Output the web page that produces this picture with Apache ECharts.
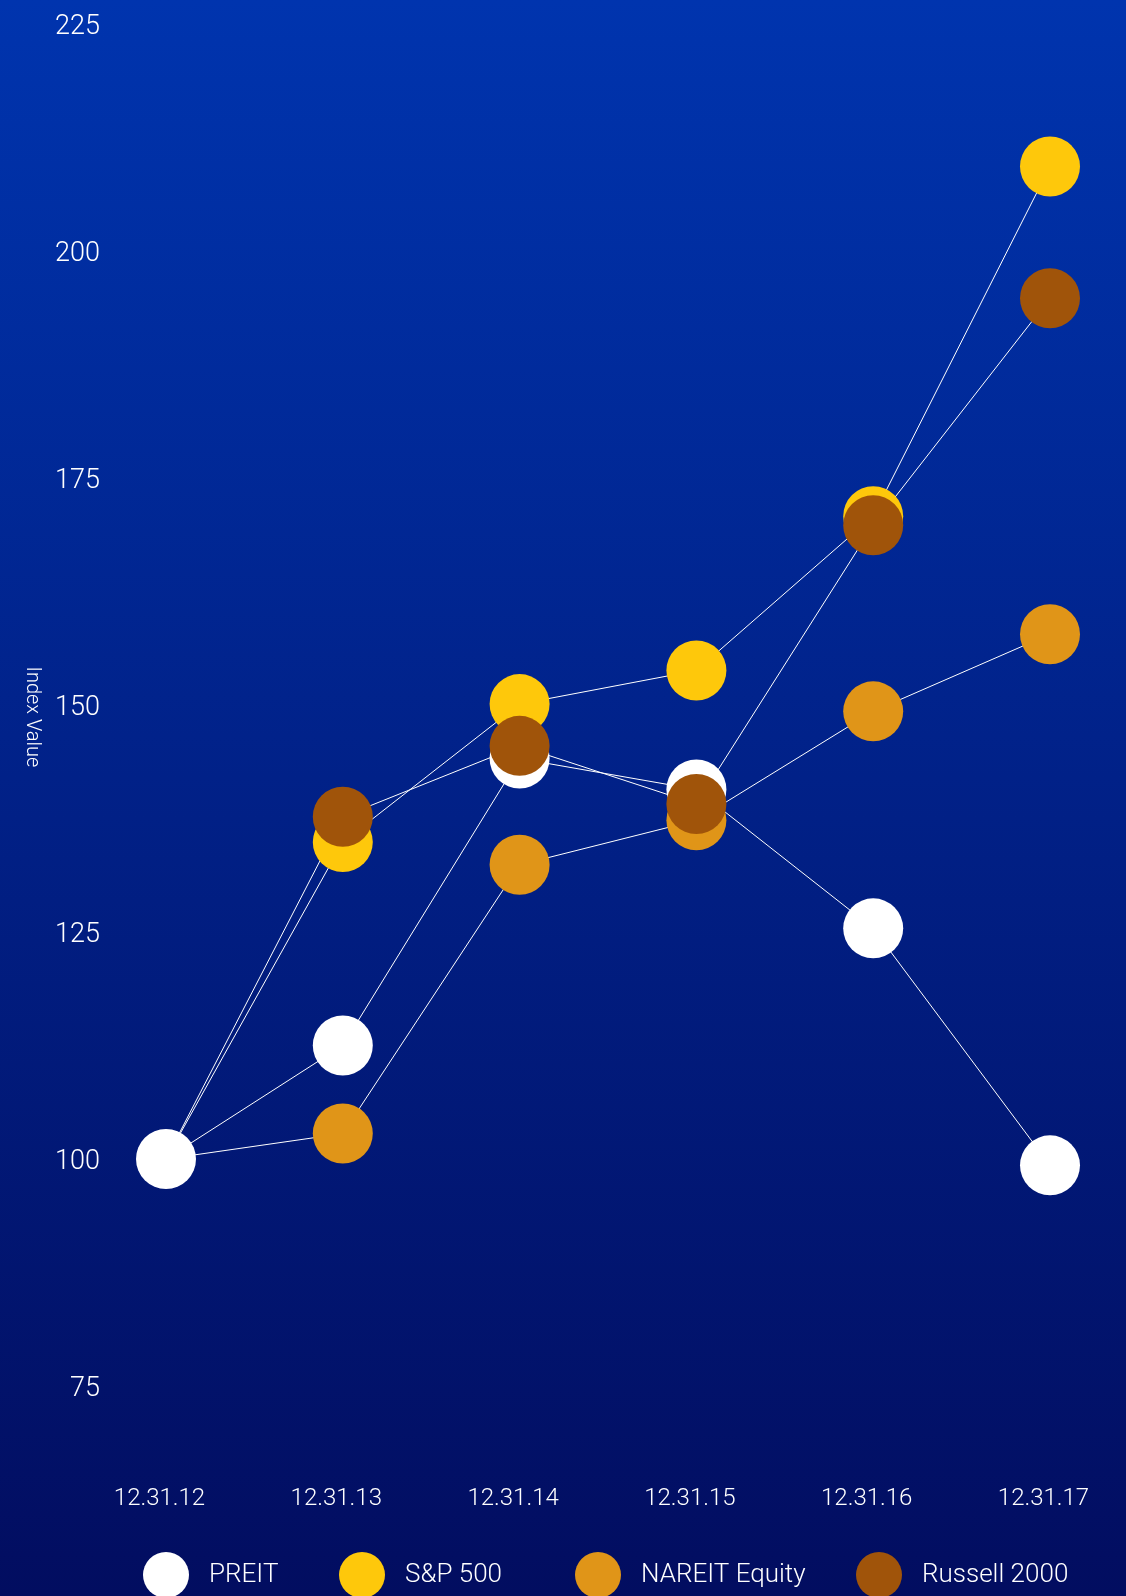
<!DOCTYPE html>
<html>
<head>
<meta charset="utf-8">
<script src="https://cdn.jsdelivr.net/npm/echarts@6/dist/echarts.min.js"></script>
<style>
html, body { margin: 0; padding: 0; }
#main { width: 1126px; height: 1596px; }
</style>
</head>
<body>
<div id="main"></div>
<script>
var dates = ['12.31.12', '12.31.13', '12.31.14', '12.31.15', '12.31.16', '12.31.17'];
var preit = [100, 112.5, 144.1, 140.7, 125.4, 99.3];
var sp500 = [100, 134.9, 150.1, 153.8, 170.8, 209.3];
var nareit = [100, 102.8, 132.4, 137.3, 149.3, 157.8];
var russell = [100, 137.7, 145.5, 139.1, 169.8, 194.8];
var yTicks = { min: 75, max: 225, step: 25 };

var names = ['PREIT', 'S&P 500', 'NAREIT Equity', 'Russell 2000'];
var colors = ['#ffffff', '#fec80b', '#e09518', '#a0540a'];
var values = [preit, sp500, nareit, russell];
var legendLeft = [143, 339, 575, 856];

var font = 'Roboto, "Liberation Sans", sans-serif';

var myChart = echarts.init(document.getElementById('main'));

var series = [];
for (var i = 0; i < names.length; i++) {
    // the common starting point only shows PREIT's marker
    var data = values[i].map(function (v, j) {
        return (i > 0 && j === 0) ? { value: v, symbol: 'none' } : v;
    });
    series.push({
        name: names[i],
        type: 'line',
        data: data,
        symbol: 'circle',
        symbolSize: 60,
        itemStyle: { color: colors[i] },
        lineStyle: { color: '#ffffff', width: 1 },
        emphasis: { disabled: true },
        animation: false
    });
}

// one legend per item so each sits where the reference has it
var legends = names.map(function (n, i) {
    return {
        data: [n],
        left: legendLeft[i] - 5,
        top: 1547,
        icon: 'circle',
        itemWidth: 46,
        itemHeight: 46,
        itemGap: 0,
        textStyle: { color: '#ffffff', fontSize: 26, fontFamily: font, fontWeight: 300, padding: [0, 0, 0, 15] }
    };
});

var option = {
    backgroundColor: new echarts.graphic.LinearGradient(0, 0, 0, 1, [
        { offset: 0, color: '#0034ae' },
        { offset: 1, color: '#020d60' }
    ]),
    grid: { left: 166, right: 76, top: 24, bottom: 210, containLabel: false, outerBoundsMode: 'none' },
    legend: legends,
    xAxis: {
        type: 'category',
        data: dates,
        boundaryGap: false,
        axisLine: { show: false },
        axisTick: { show: false },
        splitLine: { show: false },
        axisLabel: { color: '#ffffff', fontSize: 24, fontFamily: font, fontWeight: 300, margin: 101, padding: [0, 13, 0, 0] }
    },
    yAxis: {
        type: 'value',
        min: yTicks.min,
        max: yTicks.max,
        interval: yTicks.step,
        name: 'Index Value',
        nameLocation: 'middle',
        nameRotate: -90,
        nameGap: 124,
        nameTextStyle: { color: '#ffffff', fontSize: 20, fontFamily: font, fontWeight: 300, padding: [0, 0, 0, 24] },
        axisLine: { show: false },
        axisTick: { show: false },
        splitLine: { show: false },
        axisLabel: { color: '#ffffff', fontSize: 27, fontFamily: font, fontWeight: 300, margin: 66, verticalAlign: 'top', lineHeight: 6 }
    },
    series: series
};
myChart.setOption(option);
</script>
</body>
</html>
